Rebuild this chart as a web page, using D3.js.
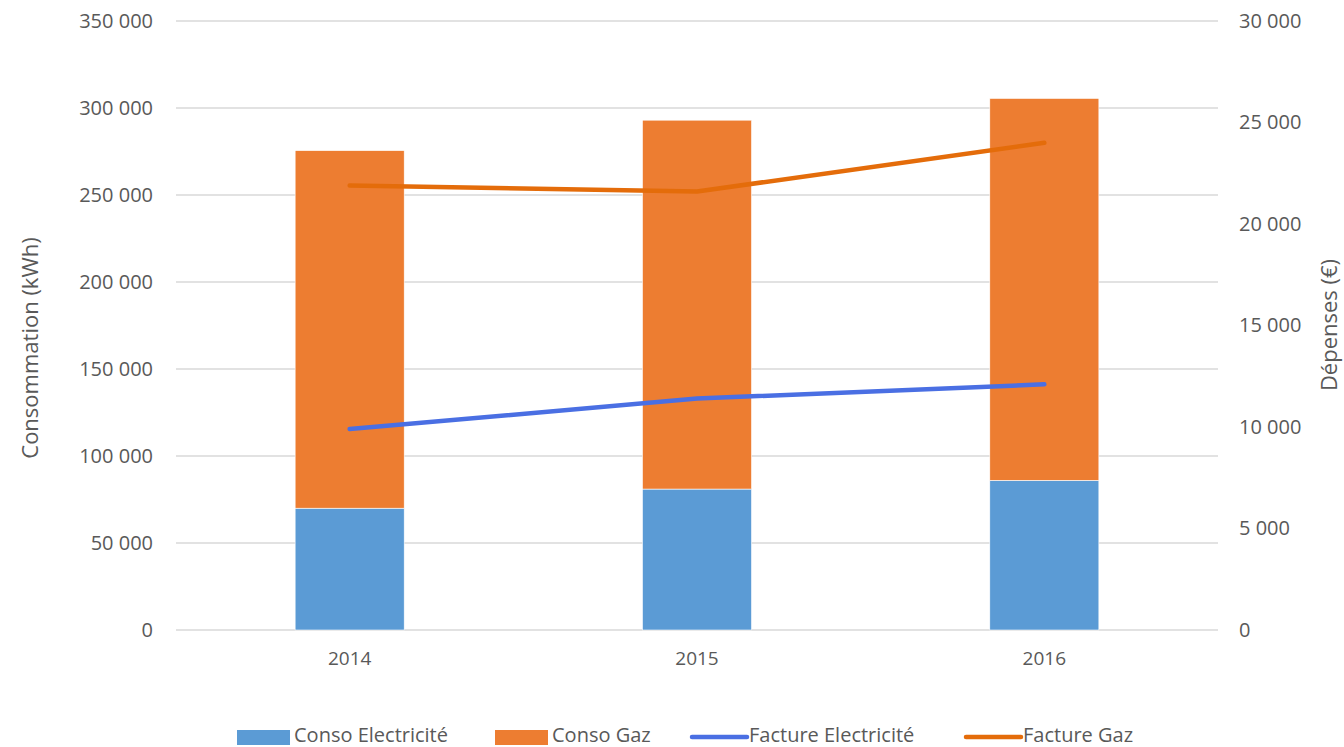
<!DOCTYPE html>
<html>
<head>
<meta charset="utf-8">
<script src="https://cdn.jsdelivr.net/npm/d3@7"></script>
<style>
  body { margin: 0; background: #fff; }
  text { font-family: "Open Sans", sans-serif; fill: #595959; }
</style>
</head>
<body>
<div id="chart"></div>
<script>
// data
var years = ["2014", "2015", "2016"];
var consoElec = [70000, 81000, 86000];
var consoGaz = [205500, 212000, 219500];
var factureElec = [9900, 11400, 12100];
var factureGaz = [21900, 21600, 24000];
var leftTicks = [0, 50000, 100000, 150000, 200000, 250000, 300000, 350000];
var rightTicks = [0, 5000, 10000, 15000, 20000, 25000, 30000];

var W = 1344, H = 747;
var margin = {top: 21, right: 126, bottom: 117, left: 176},
    width = W - margin.left - margin.right,
    height = H - margin.top - margin.bottom;

var svg = d3.select("#chart")
  .append("svg")
    .attr("width", W)
    .attr("height", H);

var g = svg.append("g")
    .attr("transform", "translate(" + margin.left + "," + margin.top + ")");

var fmt = function(d) { return d3.format(",")(d).replace(/,/g, " "); };

var x = d3.scaleBand().domain(years).range([0, width]).padding(0);
var y = d3.scaleLinear().domain([0, 350000]).range([height, 0]);
var y2 = d3.scaleLinear().domain([0, 30000]).range([height, 0]);

// grid
g.selectAll(".grid")
  .data(leftTicks)
  .enter().append("line")
    .attr("x1", 0).attr("x2", width)
    .attr("y1", function(d) { return y(d); })
    .attr("y2", function(d) { return y(d); })
    .attr("stroke", "#d9d9d9")
    .attr("stroke-width", 1.5);

// left axis
var la = g.append("g")
  .call(d3.axisLeft(y).tickValues(leftTicks).tickFormat(fmt).tickSize(0).tickPadding(23));
la.select(".domain").remove();
la.selectAll("text").style("font-size", "20px").attr("fill", "#595959");

// right axis
var ra = g.append("g")
  .attr("transform", "translate(" + width + ",0)")
  .call(d3.axisRight(y2).tickValues(rightTicks).tickFormat(fmt).tickSize(0).tickPadding(21));
ra.select(".domain").remove();
ra.selectAll("text").style("font-size", "20px").attr("fill", "#595959");

// x axis
var xa = g.append("g")
  .attr("transform", "translate(0," + height + ")")
  .call(d3.axisBottom(x).tickSize(0).tickPadding(22));
xa.select(".domain").remove();
xa.selectAll("text").style("font-size", "19px").attr("fill", "#595959");

// stacked bars
var table = years.map(function(yr, i) {
  return {year: yr, elec: consoElec[i], gaz: consoGaz[i]};
});
var stacked = d3.stack().keys(["elec", "gaz"])(table);
var color = d3.scaleOrdinal().domain(["elec", "gaz"]).range(["#5b9bd5", "#ed7d31"]);
var bw = x.bandwidth() * 0.314;

g.append("g")
  .selectAll("g")
  .data(stacked)
  .enter().append("g")
    .attr("fill", function(d) { return color(d.key); })
    .selectAll("rect")
    .data(function(d) { return d; })
    .enter().append("rect")
      .attr("x", function(d) { return x(d.data.year) + (x.bandwidth() - bw) / 2; })
      .attr("width", bw)
      .attr("y", function(d) { return y(d[1]); })
      .attr("height", function(d) { return y(d[0]) - y(d[1]); })
      .attr("stroke", "#fff")
      .attr("stroke-width", 0.6);

// lines
var line = d3.line()
  .x(function(d, i) { return x(years[i]) + x.bandwidth() / 2; })
  .y(function(d) { return y2(d); });

g.append("path").datum(factureElec)
  .attr("d", line).attr("fill", "none")
  .attr("stroke", "#4a6fe3").attr("stroke-width", 4.5)
  .attr("stroke-linecap", "round").attr("stroke-linejoin", "round");

g.append("path").datum(factureGaz)
  .attr("d", line).attr("fill", "none")
  .attr("stroke", "#e46c0a").attr("stroke-width", 4.5)
  .attr("stroke-linecap", "round").attr("stroke-linejoin", "round");

// axis titles
svg.append("text")
  .attr("transform", "translate(38,348) rotate(-90)")
  .attr("text-anchor", "middle")
  .style("font-size", "22px")
  .text("Consommation (kWh)");

svg.append("text")
  .attr("transform", "translate(1337,325) rotate(-90)")
  .attr("text-anchor", "middle")
  .style("font-size", "22px")
  .text("Dépenses (€)");

// legend
var legend = [
  {name: "Conso Electricité", type: "rect", color: "#5b9bd5", x: 237},
  {name: "Conso Gaz", type: "rect", color: "#ed7d31", x: 495},
  {name: "Facture Electricité", type: "line", color: "#4a6fe3", x: 692},
  {name: "Facture Gaz", type: "line", color: "#e46c0a", x: 966}
];
var lg = svg.append("g").attr("transform", "translate(0,737)");
legend.forEach(function(d) {
  if (d.type === "rect") {
    lg.append("rect").attr("x", d.x).attr("y", -7).attr("width", 53).attr("height", 15).attr("fill", d.color);
  } else {
    lg.append("line").attr("x1", d.x).attr("x2", d.x + 55).attr("y1", 0).attr("y2", 0)
      .attr("stroke", d.color).attr("stroke-width", 4.5).attr("stroke-linecap", "round");
  }
  lg.append("text").attr("x", d.x + 57).attr("y", 5)
    .style("font-size", "20px")
    .text(d.name);
});
</script>
</body>
</html>
